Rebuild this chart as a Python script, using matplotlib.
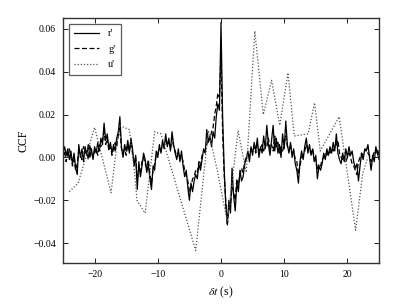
import numpy as np
import matplotlib
matplotlib.use("Agg")
import matplotlib.pyplot as plt

# lag grid for r' and g' (s)
lag_start = -25.0
lag_step = 0.25

# r' CCF values (units of 1e-3), step 0.25 s from -25 to 25
r_ccf = [
    2, 5, 1, 4, -1, 3, -3, 2, -5, -8, 6, 0, 4, -2, 5, 1, 6, 0, 4, -1,
    5, 2, 7, 3, 9, 6, 16, 8, 11, 4, 7, 2, 6, 3, 9, 12, 19, 5, 0, 6,
    3, 8, 2, 9, 4, -4, 1, -15, -2, -9, -4, 2, -1, -7, -3, -10, -15, -4, -6, 3,
    0, 6, 2, 8, 4, 11, 5, 9, 3, 12, 6, 2, -1, 4, -2, 3, -4, -9, -6, -14,
    -20, -12, -16, -11, -8, -10, -3, -6, -1, 4, 2, 13, 7, 10, 5, 12, 9, 19, 25, 22,
    63, 20, -5, -22, -31, -20, -26, -5, -18, -25, -12, -16, -6, -11, -9, -3, -1, 3, -2, 5,
    1, 7, 3, 9, 0, 5, 2, 10, 4, 15, 6, 1, 8, 15, 3, 9, 2, 6, 0, 11,
    4, 17, 6, 2, 7, 0, 4, -3, -6, -12, -2, 3, -1, 5, 9, 2, 6, 1, 4, -2,
    1, -10, -4, -6, -3, 2, -1, 4, 1, 5, 2, 7, 3, 11, 2, -1, -3, 2, -2, 4,
    0, 5, 1, 3, -2, -5, -3, -11, -4, 2, -1, 4, 3, 6, 0, -6, 1, -2, 5, 2,
    -1,
]

# g' CCF values (units of 1e-3), same grid
g_ccf = [
    0, 3, -2, 2, 4, 0, -4, -1, -6, -3, 3, 1, -1, 5, 2, 3, -1, 6, 2, 0, 3,
    4, 1, 6, 5, 8, 12, 6, 9, 3, 5, 1, 4, 7, 5, 10, 14, 4, 2, 4, 1,
    6, 3, 7, 2, -2, 0, -10, -5, -7, -2, 0, -3, -5, -1, -8, -12, -6, -3, 1, 2,
    4, 3, 6, 5, 8, 6, 7, 4, 9, 5, 3, 0, 2, 0, 1, -2, -6, -8, -11, -16,
    -14, -10, -9, -6, -7, -2, -4, 1, 2, 3, 6, 9, 8, 12, 14, 20, 24, 30, 28, 48,
    12, -8, -20, -32, -24, -22, -14, -16, -20, -10, -13, -8, -5, -7, -2, 0, 2, 1, 4, 3,
    5, 2, 6, 3, 4, 6, 3, 7, 5, 9, 4, 6, 3, 10, 5, 7, 2, 5, 3, 6,
    10, 5, 3, 6, 2, 3, -1, -2, -8, -4, 0, 1, 3, 6, 4, 3, 2, 4, 0, -1,
    -6, -3, -4, -1, 0, 2, 1, 3, 2, 4, 3, 5, 6, 8, 2, 0, -1, 1, -2, 0,
    2, 0, -3, -4, -6, -8, -2, 0, 2, 1, 3, 4, 2, 1, -2, 0, 3, 2, 4, 1,
]

# u' CCF (coarser sampling): lags (s) and values (units of 1e-3)
u_lag = [-24.0, -22.6, -20.0, -17.4, -16.1, -14.5, -13.6, -13.3, -12.0, -10.5,
         -9.5, -4.0, -2.0, -0.7, 1.0, 2.7, 4.0, 5.35, 6.7, 8.0,
         9.3, 10.6, 11.6, 13.8, 14.8, 15.7, 18.7, 21.3, 22.4, 23.2]
u_ccf = [-16, -12, 14, -16.5, 15, 13, -9, -20, -26, 12,
         11, -43.5, 12.5, -4.5, -30, 12.5, -7, 59, 20, 36,
         15, 39.5, 10, 11, 25.5, 3, 19, -34, -8, 0]

scale = 1e-3

plt.rcParams['font.family'] = ['Liberation Serif', 'DejaVu Serif']
plt.rcParams['mathtext.fontset'] = 'stix'

fig = plt.figure(figsize=(4.07, 3.07), dpi=100)
ax = fig.add_axes([63/407, 44/307, 316/407, 245/307])

lag_r = lag_start + lag_step * np.arange(len(r_ccf))
lag_g = lag_start + lag_step * np.arange(len(g_ccf))

ax.plot(lag_r, np.array(r_ccf) * scale, color='black', lw=0.9, ls='-', label="r'")
ax.plot(lag_g, np.array(g_ccf) * scale, color='black', lw=0.9, ls=(0, (4, 2)), label="g'")
ax.plot(u_lag, np.array(u_ccf) * scale, color='#555555', lw=0.9, ls=(0, (1, 1.5)), label="u'")

ax.set_xlim(-25, 25)
ax.set_ylim(-0.0493, 0.0651)
ax.set_xticks([-20, -10, 0, 10, 20])
ax.set_yticks([-0.04, -0.02, 0.0, 0.02, 0.04, 0.06])
ax.set_yticklabels(['\u22120.04', '\u22120.02', '0.00', '0.02', '0.04', '0.06'])
ax.set_xticklabels(['\u221220', '\u221210', '0', '10', '20'])
ax.tick_params(direction='in', top=True, right=True, length=3.5, width=0.6,
               labelsize=7, pad=5, colors='black')
for s in ax.spines.values():
    s.set_linewidth(1.0)
    s.set_color('#333333')

ax.set_xlabel(r'$\delta t$ (s)', fontsize=8.5, labelpad=4)
ax.set_ylabel('CCF', fontsize=8.5, labelpad=3)

leg = ax.legend(loc='upper left', fontsize=7.5, frameon=True, fancybox=False,
                edgecolor='#333333', handlelength=2.4, borderpad=0.5,
                labelspacing=0.6, borderaxespad=0.55, handletextpad=0.9)
leg.get_frame().set_linewidth(0.9)

fig.savefig('out.png', dpi=100)
